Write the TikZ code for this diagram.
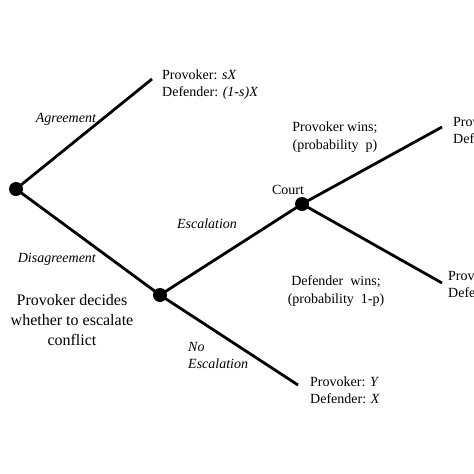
\documentclass[tikz,border=0pt]{standalone}
\usepackage{fontspec}
\setmainfont{Liberation Serif}
\begin{document}
\begin{tikzpicture}[x=1pt,y=-1pt,
  branch/.style={line width=2.8pt},
  dot/.style={circle,fill=black,inner sep=0pt,minimum size=14pt},
  lbl/.style={font=\fontsize{14}{17}\selectfont,inner sep=0pt,align=left,anchor=west},
  ctr/.style={font=\fontsize{14}{17.5}\selectfont,inner sep=0pt,align=center},
  big/.style={font=\fontsize{16}{20}\selectfont,inner sep=0pt,align=center}]
\useasboundingbox (0,0) rectangle (474,474);
\clip (0,0) rectangle (474,474);
\node[dot] (root) at (16,189) {};
\node[dot] (dis) at (160,295) {};
\node[dot] (court) at (302,204) {};
\coordinate (agr) at (152,79);
\coordinate (pw) at (442,127);
\coordinate (dw) at (442,283);
\coordinate (noesc) at (298,385);
\draw[branch] (root.center) -- (agr);
\draw[branch] (root.center) -- (dis.center);
\draw[branch] (dis.center) -- (court.center);
\draw[branch] (dis.center) -- (noesc);
\draw[branch] (court.center) -- (pw);
\draw[branch] (court.center) -- (dw);
\node[lbl] (pagr) at (162,85) {Provoker: \textit{sX}\\Defender: \textit{(1-s)X}};
\node[ctr] (lagr) at (66,119) {\textit{Agreement}};
\node[ctr] (ldis) at (57,259) {\textit{Disagreement}};
\node[big] (dec) at (72,320) {Provoker decides\\whether to escalate\\conflict};
\node[ctr] (lesc) at (207,224) {\textit{Escalation}};
\node[ctr] (lcourt) at (288,190) {Court};
\node[ctr] (pwins) at (335,137) {Provoker wins;\\(probability\ \ p)};
\node[ctr] (dwins) at (336,291) {Defender\ \ wins;\\(probability\ \ 1-p)};
\node[lbl] (lnoesc) at (188,355) {\textit{No}\\\textit{Escalation}};
\node[lbl] (pnoesc) at (310,390) {Provoker: \textit{Y}\\Defender: \textit{X}};
\node[lbl] (ppw) at (453,130) {Provoker:\\Defender:};
\node[lbl] (pdw) at (448,284) {Provoker:\\Defender:};
\end{tikzpicture}
\end{document}
